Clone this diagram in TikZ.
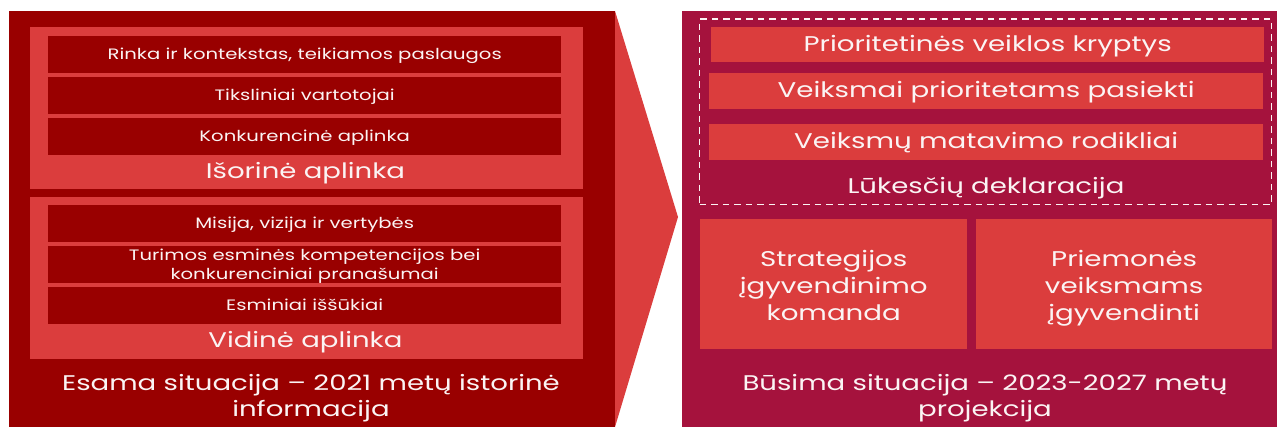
\documentclass[tikz,border=0pt]{standalone}
\usepackage{fontspec}
\setmainfont{Poppins}[FakeStretch=1.3]
\definecolor{darkred}{HTML}{990000}
\definecolor{lightred}{HTML}{DB3D3D}
\definecolor{crimson}{HTML}{A5123D}
\definecolor{txt}{HTML}{FBF4F4}
\tikzset{
  tbig/.style={text height=15.8pt, text depth=3pt},
  tsmall/.style={text height=11.2pt, text depth=0.8pt},
  bigbox/.style={fill=#1, draw=none, anchor=north west, inner sep=0pt},
  panel/.style={fill=lightred, draw=none, anchor=north west, inner sep=0pt},
  dbar/.style={fill=darkred, draw=none, anchor=north west, inner sep=0pt, text=txt, tsmall,
     align=center, font=\fontsize{15.1}{19}\selectfont, minimum width=513pt, minimum height=37pt},
  lbar/.style={fill=lightred, draw=none, anchor=north west, inner sep=0pt, text=txt, tbig,
     align=center, font=\fontsize{21.3}{24}\selectfont},
  lbl/.style={text=txt, inner sep=0pt, align=center, tbig, font=\fontsize{21.2}{26}\selectfont},
  dashbox/.style={draw=txt, line width=1.4pt, dash pattern=on 6.5pt off 5pt, anchor=north west, inner sep=0pt},
}
\begin{document}
\begin{tikzpicture}[x=1pt,y=-1pt]
\useasboundingbox (0,0) rectangle (1278,428);
\fill[white] (0,0) rectangle (1278,428);
% arrow
\fill[lightred] (615,11) -- (678,217) -- (615,427) -- cycle;
% left big box
\node[bigbox=darkred, minimum width=606pt, minimum height=416pt] (left) at (9,11) {};
% right big box
\node[bigbox=crimson, minimum width=595pt, minimum height=416pt] (right) at (682,11) {};
% left panels
\node[panel, minimum width=553pt, minimum height=162pt] (ext) at (30,27) {};
\node[panel, minimum width=553pt, minimum height=162pt] (int) at (30,197) {};
\node[dbar] (e1) at (48,36) {Rinka ir kontekstas, teikiamos paslaugos};
\node[dbar] (e2) at (48,77) {Tiksliniai vartotojai};
\node[dbar] (e3) at (48,118) {Konkurencinė aplinka};
\node[lbl] (extl) at (305.5,172) {Išorinė aplinka};
\node[dbar] (i1) at (48,205) {Misija, vizija ir vertybės};
\node[dbar, text height=31.4pt, text depth=2.1pt] (i2) at (48,246) {Turimos esminės kompetencijos bei\\konkurenciniai pranašumai};
\node[dbar] (i3) at (48,287) {Esminiai iššūkiai};
\node[lbl] (intl) at (305.5,341) {Vidinė aplinka};
\node[lbl, text height=42.6pt, text depth=1pt] (leftl) at (311,396) {Esama situacija – 2021 metų istorinė\\informacija};
% right side
\node[dashbox, minimum width=572pt, minimum height=185.5pt] (dash) at (699,18.5) {};
\node[lbar, minimum width=553pt, minimum height=35pt] (r1) at (711,27) {Prioritetinės veiklos kryptys};
\node[lbar, minimum width=554pt, minimum height=36pt] (r2) at (709,73) {Veiksmai prioritetams pasiekti};
\node[lbar, minimum width=554pt, minimum height=36pt] (r3) at (709,124) {Veiksmų matavimo rodikliai};
\node[lbl] (rl) at (986,187) {Lūkesčių deklaracija};
\node[lbar, minimum width=267pt, minimum height=130pt, text height=74pt, text depth=1pt, font=\fontsize{21.3}{27}\selectfont] (b1) at (700,219) {Strategijos\\įgyvendinimo\\komanda};
\node[lbar, minimum width=296pt, minimum height=130pt, text height=74pt, text depth=1pt, font=\fontsize{21.3}{27}\selectfont] (b2) at (976,219) {Priemonės\\veiksmams\\įgyvendinti};
\node[lbl, text height=42.6pt, text depth=1pt] (rightl) at (985,396) {Būsima situacija – 2023-2027 metų\\projekcija};
\end{tikzpicture}
\end{document}
